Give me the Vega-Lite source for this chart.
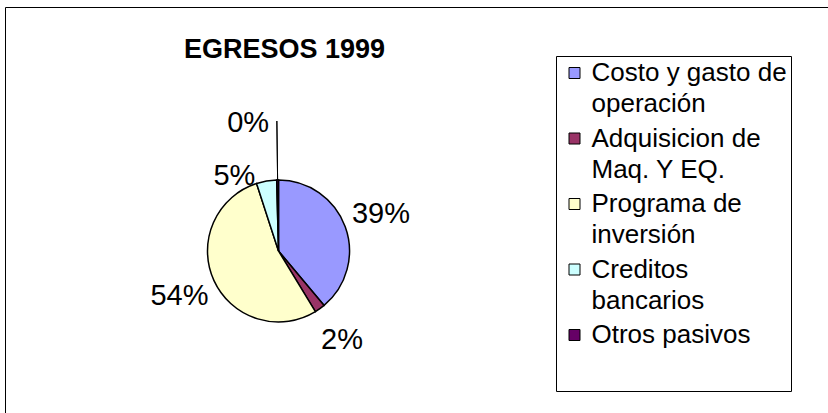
{
  "$schema": "https://vega.github.io/schema/vega-lite/v6.json",
  "width": 830,
  "height": 410,
  "autosize": {"type": "none"},
  "padding": {"left": 5, "top": 7, "right": 0, "bottom": 0},
  "background": "white",
  "view": {"stroke": "black", "strokeWidth": 1, "fill": "white"},
  "config": {"view": {"stroke": "black", "strokeWidth": 1}, "font": "Liberation Sans"},
  "title": {
    "text": "EGRESOS 1999",
    "font": "Liberation Sans",
    "fontSize": 27,
    "fontWeight": "bold",
    "color": "black",
    "anchor": "start",
    "frame": "group",
    "baseline": "alphabetic",
    "offset": 0,
    "dx": 179,
    "dy": 78
  },
  "data": {
    "values": [
      {"idx": 1, "cat": "Costo y gasto de operación", "share": 0.389},
      {"idx": 2, "cat": "Adquisicion de Maq. Y EQ.", "share": 0.024},
      {"idx": 3, "cat": "Programa de inversión", "share": 0.537},
      {"idx": 4, "cat": "Creditos bancarios", "share": 0.046},
      {"idx": 5, "cat": "Otros pasivos", "share": 0.004}
    ]
  },
  "encoding": {
    "theta": {"field": "share", "type": "quantitative", "stack": true},
    "order": {"field": "idx", "type": "quantitative"}
  },
  "layer": [
    {
      "mark": {"type": "arc", "x": 273.5, "y": 244, "radius": 71, "stroke": "black", "strokeWidth": 1.5},
      "encoding": {
        "color": {
          "field": "cat",
          "type": "nominal",
          "scale": {
            "domain": ["Costo y gasto de operación", "Adquisicion de Maq. Y EQ.", "Programa de inversión", "Creditos bancarios", "Otros pasivos"],
            "range": ["#9999FF", "#993366", "#FFFFCC", "#CCFFFF", "#660066"]
          },
          "legend": {
            "orient": "none",
            "legendX": 551,
            "legendY": 49,
            "title": "\u00a0",
            "titleOrient": "bottom",
            "titleFontSize": 35,
            "titlePadding": 4,
            "strokeColor": "black",
            "fillColor": "white",
            "padding": 4,
            "symbolType": "square",
            "symbolSize": 121,
            "symbolOffset": 1.5,
            "symbolStrokeColor": "black",
            "symbolStrokeWidth": 1,
            "symbolOpacity": 1,
            "labelFont": "Liberation Sans",
            "labelFontSize": 26,
            "labelColor": "black",
            "labelOffset": 4,
            "labelLimit": 400,
            "labelBaseline": "top",
            "rowPadding": 8.5,
            "labelExpr": "datum.label == 'Costo y gasto de operación' ? ['Costo y gasto de\u00a0\u00a0', 'operación'] : datum.label == 'Adquisicion de Maq. Y EQ.' ? ['Adquisicion de', 'Maq. Y EQ.'] : datum.label == 'Programa de inversión' ? ['Programa de', 'inversión'] : datum.label == 'Creditos bancarios' ? ['Creditos', 'bancarios'] : datum.label",
            "encode": {"labels": {"update": {"lineHeight": {"value": 31}, "dy": {"value": -13}}}}
          }
        }
      }
    },
    {
      "mark": {"type": "arc", "x": 273.5, "y": 244, "radius": 130, "radius2": 71, "padAngle": 0.3, "fillOpacity": 0, "stroke": "black", "strokeWidth": 1},
      "encoding": {
        "detail": {"field": "cat"},
        "opacity": {"condition": {"test": "datum.cat === 'Otros pasivos'", "value": 1}, "value": 0}
      }
    },
    {
      "mark": {"type": "text", "x": 273.5, "y": 244, "radius": 109, "fontSize": 29, "font": "Liberation Sans", "color": "black"},
      "encoding": {
        "detail": {"field": "cat"},
        "text": {"field": "share", "type": "quantitative", "format": ".0%"},
        "opacity": {"condition": {"test": "datum.cat === 'Otros pasivos' || datum.cat === 'Creditos bancarios'", "value": 0}, "value": 1}
      }
    },
    {
      "mark": {"type": "text", "x": 273.5, "y": 244, "radius": 107, "dx": -26, "dy": 30, "fontSize": 29, "font": "Liberation Sans", "color": "black"},
      "encoding": {
        "detail": {"field": "cat"},
        "text": {"field": "share", "type": "quantitative", "format": ".0%"},
        "opacity": {"condition": {"test": "datum.cat === 'Creditos bancarios'", "value": 1}, "value": 0}
      }
    },
    {
      "mark": {"type": "text", "x": 273.5, "y": 244, "radius": 107, "dx": -29, "dy": -21, "fontSize": 29, "font": "Liberation Sans", "color": "black"},
      "encoding": {
        "detail": {"field": "cat"},
        "text": {"field": "share", "type": "quantitative", "format": ".0%"},
        "opacity": {"condition": {"test": "datum.cat === 'Otros pasivos'", "value": 1}, "value": 0}
      }
    }
  ]
}
